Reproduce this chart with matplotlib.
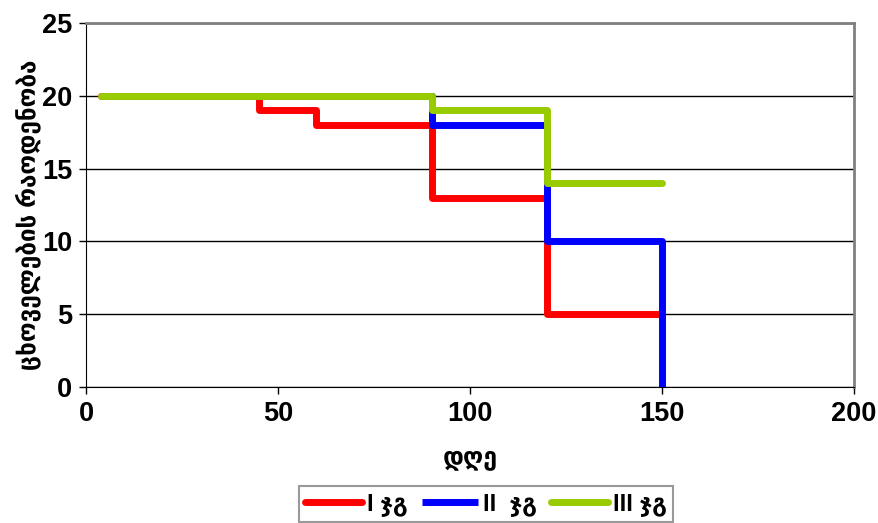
import matplotlib
matplotlib.use("Agg")
import matplotlib.pyplot as plt

days_g1 = [4, 45, 60, 90, 120, 150]
count_g1 = [20, 19, 18, 13, 5, 5]
days_g2 = [4, 90, 120, 150]
count_g2 = [20, 18, 10, 0]
days_g3 = [4, 90, 120, 150]
count_g3 = [20, 19, 14, 14]
labels = ["I ჯგ", "II  ჯგ", "III ჯგ"]
x_ticks = [0, 50, 100, 150, 200]
y_ticks = [0, 5, 10, 15, 20, 25]

fam = ["Liberation Sans", "DejaVu Sans"]
plt.rcParams["font.family"] = fam

fig = plt.figure(figsize=(8.79, 5.23), dpi=100)
ax = fig.add_axes([86/879, 1-387/523, (854-86)/879, (387-23)/523])

lw = 5
ax.step(days_g1, count_g1, where="post", color="#FF0000", lw=lw, label=labels[0], solid_joinstyle="round", solid_capstyle="round", zorder=3)
ax.step(days_g2, count_g2, where="post", color="#0000FF", lw=lw, label=labels[1], solid_joinstyle="round", solid_capstyle="butt", zorder=4)
ax.step(days_g3, count_g3, where="post", color="#99CC00", lw=lw, label=labels[2], solid_joinstyle="round", solid_capstyle="round", zorder=5)

ax.set_xlim(0, 200)
ax.set_ylim(0, 25)
ax.set_xticks(x_ticks)
ax.set_yticks(y_ticks)
ax.yaxis.grid(True, color="#000000", lw=1.0)
ax.set_axisbelow(True)
ax.tick_params(direction="out", length=5, width=1, labelsize=19.5, pad=5)
for lab in ax.get_xticklabels() + ax.get_yticklabels():
    lab.set_fontweight("bold")
ax.spines["left"].set_color("black")
ax.spines["bottom"].set_color("black")
ax.spines["top"].set_color("#808080")
ax.spines["right"].set_color("#808080")
ax.spines["top"].set_linewidth(2)
ax.spines["right"].set_linewidth(2)

ax.set_xlabel("დღე", fontsize=18, fontweight="bold", labelpad=14)
fig.text(28/879, 1-215/523, "ცხოველების რაოდენობა", rotation=90, fontsize=17.5,
         fontweight="bold", ha="center", va="center")

leg = fig.legend(loc="upper center", bbox_to_anchor=(486/879, 1-486/523), ncol=3,
                 frameon=True, fancybox=False, edgecolor="#808080",
                 prop={"size": 17, "weight": "bold", "family": fam},
                 handlelength=2.4, handletextpad=0.2, columnspacing=0.6,
                 borderpad=0.25, borderaxespad=0)
leg.get_frame().set_linewidth(1.5)

fig.savefig("out.png", dpi=100)
